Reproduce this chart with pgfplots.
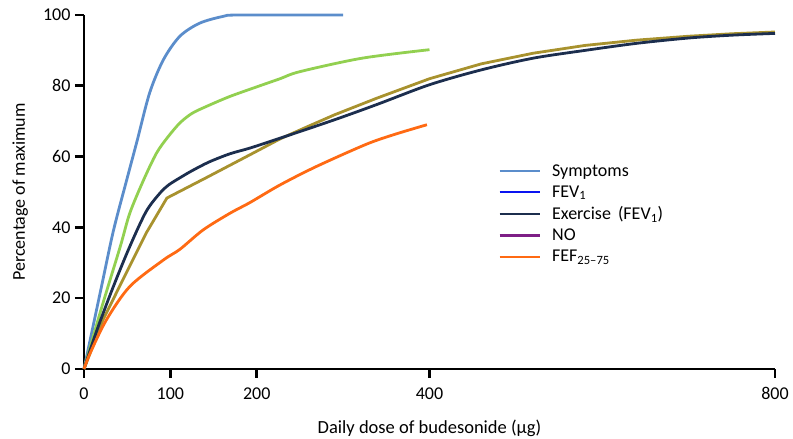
\documentclass[border=0pt]{standalone}
\usepackage{fontspec}
\setmainfont{Carlito}
\usepackage{pgfplots}
\pgfplotsset{compat=1.18}
\definecolor{symp}{HTML}{5B8DCB}
\definecolor{fevb}{HTML}{0A14F0}
\definecolor{exer}{HTML}{1C2E4E}
\definecolor{nopu}{HTML}{7E1F86}
\definecolor{fefo}{HTML}{FF6A13}
\definecolor{grn}{HTML}{92D050}
\definecolor{gold}{HTML}{A8922E}
\begin{document}
\begin{tikzpicture}
\begin{axis}[
  scale only axis, width=691pt, height=354pt,
  xmin=0, xmax=800, ymin=0, ymax=100,
  axis lines=left, axis line style={-, line width=2.8pt},
  xtick={0,100,200,400,800}, ytick={0,20,...,100},
  tick align=outside, major tick length=9pt,
  tick style={black, line width=2.6pt},
  /pgf/number format/assume math mode=true,
  tick label style={font=\fontsize{18}{20}\selectfont},
  xticklabel style={yshift=-6pt},
  yticklabel style={xshift=-1pt},
  xlabel={Daily dose of budesonide (µg)},
  ylabel={Percentage of maximum},
  xlabel style={font=\fontsize{18.5}{20}\selectfont, at={(rel axis cs:0.5,0)}, anchor=base, yshift=-64.5pt},
  ylabel style={font=\fontsize{18}{20}\selectfont, at={(rel axis cs:0,0.5)}, anchor=base, yshift=59pt},
  legend style={draw=none, fill=none, at={(rel axis cs:0.595,0.59)}, anchor=north west,
    font=\fontsize{18}{20}\selectfont, row sep=4pt},
  legend cell align=left,
  legend image code/.code={\draw[#1, line width=2.8pt] (0pt,0pt) -- (40pt,0pt);},
  clip=false,
]
\addlegendimage{symp}\addlegendentry{\hspace{9pt}Symptoms}
\addlegendimage{fevb}\addlegendentry{\hspace{9pt}FEV\textsubscript{1}}
\addlegendimage{exer}\addlegendentry{\hspace{9pt}Exercise\, (FEV\textsubscript{1})}
\addlegendimage{nopu}\addlegendentry{\hspace{9pt}NO}
\addlegendimage{fefo}\addlegendentry{\hspace{9pt}FEF\textsubscript{25–75}}

% symptoms
\addplot[symp, line width=2.8pt, smooth, forget plot] coordinates {
(0,0) (20,23) (34,39) (49,53) (61,64) (76,78) (92,87.4) (111,94) (134,97.7) (161,99.6) (180,100) (300,100)};
% green
\addplot[grn, line width=2.8pt, smooth, forget plot] coordinates {
(0,0) (20,17) (42,34.6) (53,44) (69,53.4) (84,61) (97,65.5) (111,69.5) (125,72.2) (142,74.2) (169,77) (200,79.7) (227,82) (250,84) (322,87.8) (400,90.2)};
% gold
\addplot[gold, line width=2.8pt, forget plot] coordinates {
(0,0) (22,13.9) (45,25.2) (72,38.4) (88,45) (96,48.3) (142,54.1) (192,60.5) (227,65) (260,68.6) (290,71.8) (339,76.5) (400,82) (460,86.2) (520,89.2) (580,91.4) (640,92.9) (700,94) (750,94.7) (800,95.2)};
% exercise navy
\addplot[exer, line width=2.8pt, smooth, forget plot] coordinates {
(0,0) (15,11) (34,23.3) (53,34.6) (72,44.5) (88,49.7) (98,52) (111,54) (125,56) (145,58.5) (169,60.8) (192,62.4) (227,65.2) (290,70.4) (340,74.8) (400,80.3) (460,84.5) (520,87.8) (580,90) (640,92) (700,93.5) (750,94.3) (800,94.8)};
% FEF orange
\addplot[fefo, line width=2.8pt, smooth, forget plot] coordinates {
(0,0) (7,4.4) (26,13.9) (53,23.3) (92,30.8) (111,33.8) (138,39.3) (169,44) (192,47) (227,52) (269,57.2) (327,63.5) (360,66.3) (397,69)};
\end{axis}
\pgfresetboundingbox
\path (-84pt,-70pt) rectangle (709pt,369pt);
\end{tikzpicture}
\end{document}
